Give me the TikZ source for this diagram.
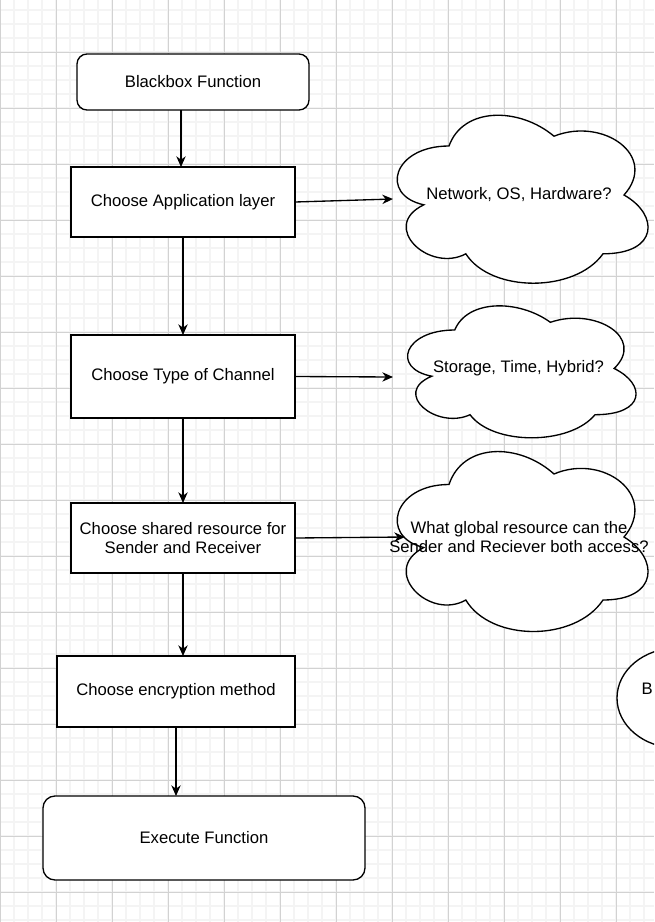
\documentclass[tikz,border=0pt]{standalone}
\usepackage{fontspec}
\setmainfont{Liberation Sans}
\usepackage{tikz}
\usetikzlibrary{positioning,shapes.geometric,arrows.meta}
\definecolor{gridminor}{HTML}{F4F4F4}
\definecolor{gridmajor}{HTML}{D2D2D2}

\newcommand{\ideacloud}[6]{%
  \begin{scope}[xshift=#1*0.75pt, yshift=-#2*0.75pt, x=#3*0.75pt, y=-#4*0.75pt]
    \draw[fill=white, line width=1pt] (0.25,0.25) .. controls (0.05,0.25) and (0,0.5) .. (0.16,0.55)
      .. controls (0,0.66) and (0.18,0.9) .. (0.31,0.8)
      .. controls (0.4,1) and (0.7,1) .. (0.8,0.8)
      .. controls (1,0.8) and (1,0.6) .. (0.875,0.5)
      .. controls (1,0.3) and (0.8,0.1) .. (0.625,0.2)
      .. controls (0.5,0.05) and (0.3,0.05) .. (0.25,0.25) -- cycle;
    \node[align=center] (#5) at (0.5,0.5) {#6};
  \end{scope}}

\begin{document}
\begin{tikzpicture}[x=0.75pt, y=-0.75pt, line width=1pt,
    font=\fontsize{12.5pt}{14.3pt}\selectfont,
    box/.style={draw, fill=white, inner sep=2pt, outer sep=0pt, align=center},
    flow/.style={-{Stealth[length=8pt, width=7pt, inset=2.5pt]}}]
            \useasboundingbox (0,0) rectangle (654,922);
            \clip (0,0) rectangle (654,922);
            \foreach \gx in {0,14,...,654} \draw[gridminor, line width=1.2pt] (\gx,0) -- (\gx,922);
            \foreach \gy in {10,24,...,922} \draw[gridminor, line width=1.2pt] (0,\gy) -- (654,\gy);
            \foreach \gx in {0,56,...,654} \draw[gridmajor, line width=0.75pt] (\gx,0) -- (\gx,922);
            \foreach \gy in {52,108,...,922} \draw[gridmajor, line width=0.75pt] (0,\gy) -- (654,\gy);

            \node[box, rounded corners=7.5pt, minimum width=174pt, minimum height=42pt] (bb) at (193,82) {Blackbox Function};
            \node[box, minimum width=168pt, minimum height=52.5pt, below=42.75pt of bb, xshift=-7.5pt] (app) {Choose Application layer};
            \node[box, minimum width=168pt, minimum height=62.25pt, below=73.5pt of app] (chan) {Choose Type of Channel};
            \node[box, minimum width=168pt, minimum height=52.5pt, below=63.75pt of chan] (shared) {Choose shared resource for\\Sender and Receiver};
            \node[box, minimum width=178.5pt, minimum height=53.25pt, below=62.25pt of shared, xshift=-5.25pt] (enc) {Choose encryption method};
            \node[box, rounded corners=9pt, minimum width=241.5pt, minimum height=63pt, below=51.75pt of enc, xshift=21pt] (exec) {Execute Function};

            \ideacloud{379}{97}{280}{196}{layerq}{Network, OS, Hardware?}
            \ideacloud{391}{291.5}{255}{154}{chanq}{Storage, Time, Hybrid?}
            \ideacloud{379}{432}{280}{210}{sharedq}{What global resource can the\\Sender and Reciever both access?}

            \node[draw, fill=white, ellipse, minimum width=90pt, minimum height=75pt] (bq) at (677,698) {};
            \node[anchor=west, inner sep=0pt] (bqtext) at (641,689) {B};

            \coordinate (layerin) at (393,199);
            \coordinate (chanin) at (393,377);
            \coordinate (sharedin) at (405,537);

            \draw[flow] ([xshift=-9pt]bb.south) -- ([xshift=-9pt]bb.south |- app.north);
            \draw[flow] (app) -- (chan);
            \draw[flow] (chan) -- (shared);
            \draw[flow] (shared.south) -- (shared.south |- enc.north);
            \draw[flow] (enc) -- (enc |- exec.north);
            \draw[flow] (app.east) -- (layerin);
            \draw[flow] (chan.east) -- (chanin);
            \draw[flow] (shared.east) -- (sharedin);
        \end{tikzpicture}
\end{document}
